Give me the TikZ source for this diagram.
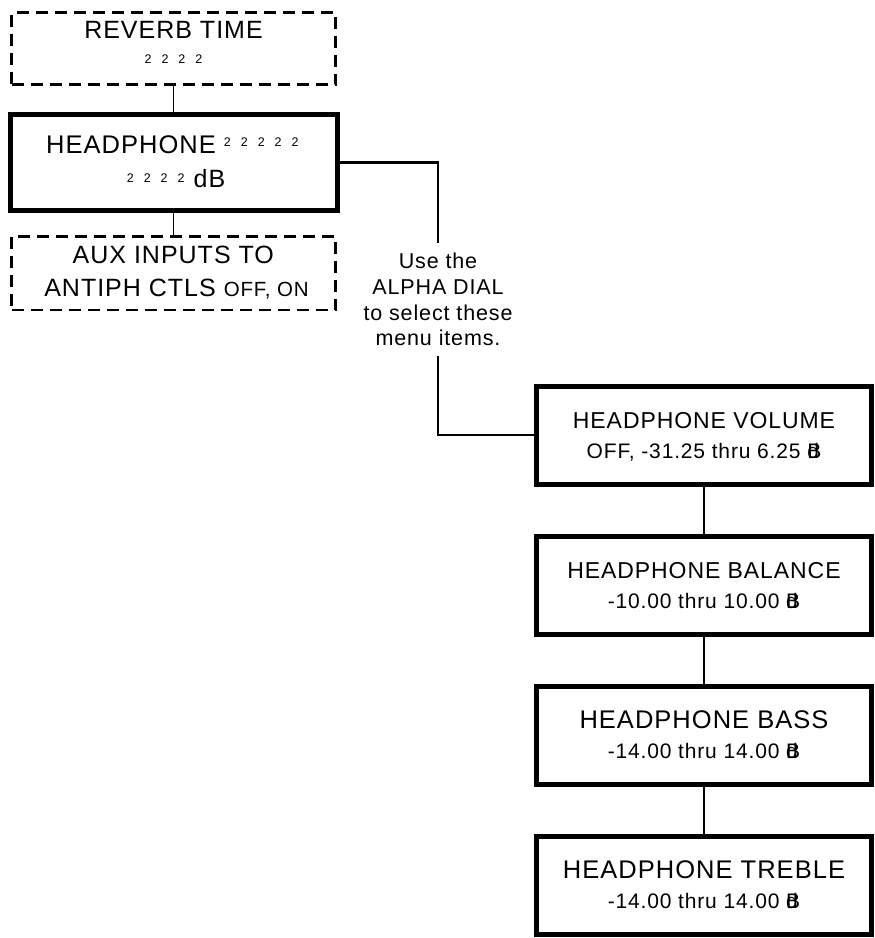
\documentclass[tikz,border=0pt]{standalone}
\usepackage{fontspec}
\setmainfont{Liberation Sans}[LetterSpace=4]
\newcommand{\fs}[1]{\fontsize{#1}{#1}\selectfont}
\newcommand{\tw}{{\fontsize{12.5}{12.5}\selectfont 2}}
\newcommand{\twoF}{\tw\hspace{10pt}\tw\hspace{10pt}\tw\hspace{10pt}\tw}
\newcommand{\twoV}{\tw\hspace{10pt}\tw\hspace{10pt}\tw\hspace{10pt}\tw\hspace{10pt}\tw}
\newcommand{\odB}{\makebox[0pt][l]{d}B}
\begin{document}
\begin{tikzpicture}[x=1pt,y=-1pt]
\tikzset{
 optbox/.style={draw, line width=2.5pt, dash pattern=on 12pt off 7pt, minimum width=324pt, minimum height=72pt, inner sep=0pt},
 keybox/.style={draw, line width=5pt, inner sep=0pt},
 menubox/.style={keybox, minimum width=335pt, minimum height=98pt},
 txt/.style={inner sep=0pt, anchor=base},
 link/.style={line width=2.5pt},
 thinlink/.style={line width=1.8pt},
}
\fill[white] (0,0) rectangle (875,938);
\useasboundingbox (0,0) rectangle (875,938);

% boxes
\node[optbox] (rev) at (173.5,48.5) {};
\node[keybox, minimum width=327pt, minimum height=96pt] (hp) at (173.5,162.5) {};
\node[optbox, minimum height=73.5pt] (aux) at (173.5,273.3) {};
\node[menubox] (vol) at (704,435) {};
\node[menubox] (bal) at (704,585) {};
\node[menubox] (bass) at (704,735) {};
\node[menubox] (treb) at (704,885) {};

% texts
\node[txt, font=\fs{25}] (rev-a) at (173.5,38.5) {REVERB TIME};
\node[txt] (rev-b) at (173.5,63) {\twoF};
\node[txt, font=\fs{25.5}] (hp-a) at (172.4,153) {HEADPHONE\hspace{8pt}\raisebox{7pt}{\twoV}};
\node[txt, font=\fs{25}] (hp-b) at (176,187) {\raisebox{5pt}{\twoF}\hspace{9pt}dB};
\node[txt, font=\fs{25}] (aux-a) at (173.3,263.3) {AUX INPUTS TO};
\node[txt, font=\fs{25}] (aux-b) at (176.5,296.7) {ANTIPH CTLS {\fs{20.5}OFF, ON}};

\node[inner sep=0pt, align=center, font=\fontsize{21.5}{25.7}\selectfont, minimum height=112pt] (ann) at (438,299.5) {Use the\\ALPHA DIAL\\to select these\\menu items.};

\node[txt, font=\fs{23}] (vol-a) at (704,428) {HEADPHONE VOLUME};
\node[txt, font=\fs{21}] (vol-b) at (704,458) {OFF, -31.25 thru 6.25 \odB};
\node[txt, font=\fs{23}] (bal-a) at (704,578) {HEADPHONE BALANCE};
\node[txt, font=\fs{21}] (bal-b) at (704,608) {-10.00 thru 10.00 \odB};
\node[txt, font=\fs{25.5}] (bass-a) at (704,728) {HEADPHONE BASS};
\node[txt, font=\fs{21}] (bass-b) at (704,758) {-14.00 thru 14.00 \odB};
\node[txt, font=\fs{25.5}] (treb-a) at (704,878) {HEADPHONE TREBLE};
\node[txt, font=\fs{21}] (treb-b) at (704,908) {-14.00 thru 14.00 \odB};

% connectors
\draw[thinlink] (rev.south) -- (hp.north);
\draw[thinlink] (hp.south) -- (aux.north);
\draw[link] (hp.east) -| (ann.north);
\draw[link] (ann.south) |- (vol.west);
\draw[link] (vol.south) -- (bal.north);
\draw[link] (bal.south) -- (bass.north);
\draw[link] (bass.south) -- (treb.north);
\end{tikzpicture}
\end{document}
